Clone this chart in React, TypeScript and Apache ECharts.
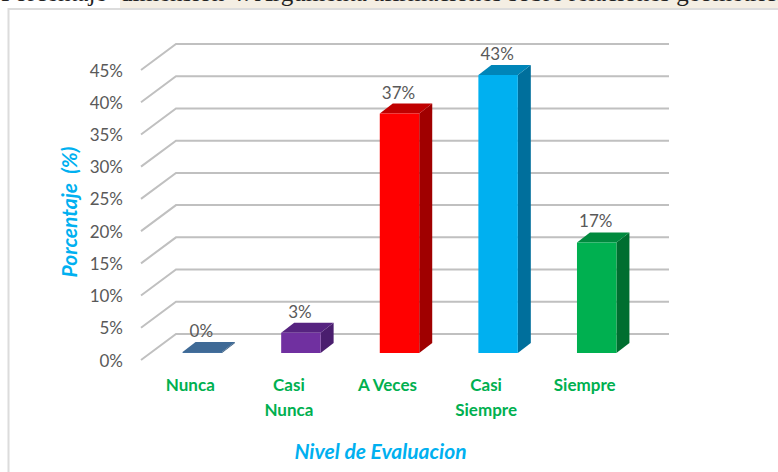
import React, { useEffect, useRef } from "react";
import * as echarts from "echarts";

const categories = ["Nunca", "Casi\nNunca", "A Veces", "Casi\nSiempre", "Siempre"];
const values = [0, 3, 37, 43, 17];
const gridValues = [0, 5, 10, 15, 20, 25, 30, 35, 40, 45];
const frontColors = ["#44709e", "#7030a0", "#ff0000", "#00b0f0", "#00b050"];
const topColors = ["#3f6a96", "#562380", "#c00000", "#0085b8", "#008a3e"];
const sideColors = ["#35587c", "#4a1e6e", "#a00000", "#006f9c", "#006e30"];
const headingLead = "Porcentaje ";
const headingRest = "dimensión 4: Argumenta afirmaciones sobre relaciones geométricas";

const LABEL_FONT = "Lato, Carlito, sans-serif";

export default function App() {
  const ref = useRef<HTMLDivElement>(null);
  useEffect(() => {
    const chart = echarts.init(ref.current!, null, { renderer: "svg" });
    const DX = 35, DY = -26;
    const BX = 13, BY = -10;
    chart.setOption({
      animation: false,
      backgroundColor: "#ffffff",
      graphic: [
        { type: "rect", z: 0, shape: { x: 120, y: 0, width: 658, height: 8 }, style: { fill: "#f4eee3" } },
        { type: "rect", z: 0, shape: { x: 8.5, y: 9, width: 780, height: 470 }, style: { fill: "#ffffff", stroke: "#dcdcdc", lineWidth: 2 } },
        { type: "text", z: 1, x: 1, y: -20, style: { text: headingLead, font: "25px 'Liberation Serif', serif", fill: "#222222" } },
        { type: "text", z: 1, x: 120, y: -20, style: { text: headingRest, font: "25px 'Liberation Serif', serif", fill: "#222222" } },
      ],
      grid: { left: 141, width: 493, top: 70, height: 290 },
      xAxis: {
        type: "category",
        data: categories,
        axisLine: { show: false },
        axisTick: { show: false },
        axisLabel: {
          color: "#00b050",
          fontFamily: LABEL_FONT,
          fontWeight: "bold",
          fontSize: 17,
          lineHeight: 25,
          margin: 12,
          interval: 0,
        },
        name: "Nivel de Evaluacion",
        nameLocation: "middle",
        nameGap: 80,
        nameTextStyle: {
          color: "#00b0f0",
          fontFamily: LABEL_FONT,
          fontWeight: "bold",
          fontStyle: "italic",
          fontSize: 21,
          padding: [0, 14, 0, 0],
        },
      },
      yAxis: {
        type: "value",
        min: 0,
        max: 45,
        interval: 5,
        axisLine: { show: false },
        axisTick: { show: false },
        splitLine: { show: false },
        axisLabel: {
          color: "#595959",
          fontFamily: LABEL_FONT,
          fontSize: 17,
          margin: 18,
          formatter: "{value}%",
        },
        name: "Porcentaje  (%)",
        nameLocation: "middle",
        nameGap: 60,
        nameTextStyle: {
          color: "#00b0f0",
          fontFamily: LABEL_FONT,
          fontWeight: "bold",
          fontStyle: "italic",
          fontSize: 21,
          padding: [0, 0, 0, 6],
        },
      },
      series: [
        {
          type: "custom",
          coordinateSystem: "cartesian2d",
          silent: true,
          z: 1,
          clip: false,
          data: gridValues.map((v) => [0, v]),
          encode: { x: 0, y: 1 },
          renderItem: (_p: any, api: any) => {
            const p = api.coord([0, api.value(1)]);
            const band = api.size([1, 0])[0];
            const x0 = p[0] - band / 2;
            const y0 = p[1];
            const x1 = x0 + 5 * band;
            return {
              type: "polyline",
              shape: {
                points: [
                  [x0, y0],
                  [x0 + DX, y0 + DY],
                  [x1 + DX, y0 + DY],
                ],
              },
              style: { stroke: "#c0c0c0", lineWidth: 2, fill: "none" },
            };
          },
        },
        {
          type: "custom",
          coordinateSystem: "cartesian2d",
          silent: true,
          z: 3,
          clip: false,
          data: values.map((v, i) => [i, v]),
          encode: { x: 0, y: 1 },
          label: { show: false },
          renderItem: (_p: any, api: any) => {
            const i = api.value(0);
            const v = api.value(1);
            const top = api.coord([i, v]);
            const base = api.coord([i, 0]);
            const w = api.size([1, 0])[0] * 0.4;
            const x0 = top[0] + 12 - w / 2;
            const x1 = x0 + w;
            const yB = base[1] - 7;
            const yT = top[1] - 8;
            return {
              type: "group",
              children: [
                {
                  type: "polygon",
                  shape: { points: [[x1, yT], [x1 + BX, yT + BY], [x1 + BX, yB + BY], [x1, yB]] },
                  style: { fill: sideColors[i] },
                },
                {
                  type: "polygon",
                  shape: { points: [[x0, yT], [x0 + BX, yT + BY], [x1 + BX, yT + BY], [x1, yT]] },
                  style: { fill: topColors[i] },
                },
                {
                  type: "rect",
                  shape: { x: x0, y: yT, width: w, height: yB - yT },
                  style: { fill: frontColors[i] },
                },
                {
                  type: "text",
                  x: x0 + w / 2 - 1,
                  y: yT + BY - 3,
                  style: {
                    text: v + "%",
                    fill: "#595959",
                    font: "17px " + LABEL_FONT,
                    align: "center",
                    verticalAlign: "bottom",
                  },
                },
              ],
            };
          },
        },
      ],
    });
    return () => chart.dispose();
  }, []);
  return (
    <div
      ref={ref}
      style={{ position: "absolute", left: 0, top: 0, width: 778, height: 472 }}
    />
  );
}
